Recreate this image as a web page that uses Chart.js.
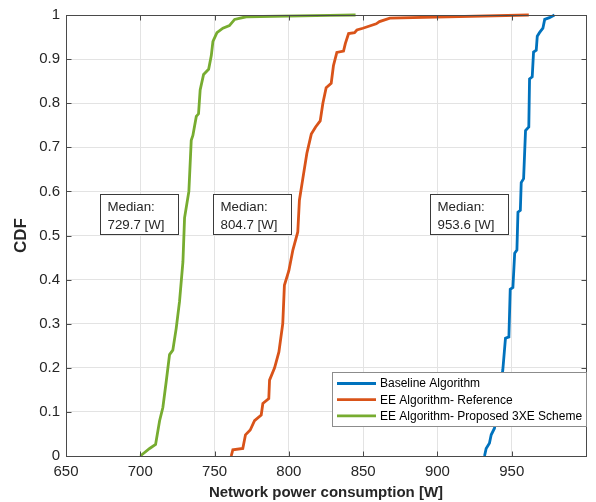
<!DOCTYPE html>
<html>
<head>
<meta charset="utf-8">
<script src="https://cdn.jsdelivr.net/npm/chart.js@4"></script>
<style>
  html, body { margin: 0; padding: 0; background: #fff; }
  #wrap { width: 596px; height: 502px; }
</style>
</head>
<body>
<div id="wrap"><canvas id="cdfChart" width="596" height="502"></canvas></div>
<script>
// series labels
const seriesNames = ['Baseline Algorithm', 'EE Algorithm- Reference', 'EE Algorithm- Proposed 3XE Scheme'];

// Baseline
const baseX = [931.7, 932.8, 935, 936.2, 938.4, 941, 944, 945.8, 948.1, 949, 950.8, 952, 953.5, 954.2, 955.8, 956.4, 958, 959.3, 961.5, 962, 963.8, 964.7, 966.5, 967.2, 968.7, 971, 972.2, 975.4, 978.8];
const baseY = [0, 0.017, 0.029, 0.048, 0.063, 0.13, 0.195, 0.267, 0.27, 0.378, 0.382, 0.46, 0.467, 0.553, 0.557, 0.62, 0.629, 0.738, 0.746, 0.855, 0.86, 0.916, 0.92, 0.952, 0.96, 0.97, 0.99, 0.994, 1.0];

// EE reference
const refX = [761.2, 762.3, 769, 770.8, 774, 776.9, 781.4, 782.5, 786.5, 787, 790.4, 793.3, 795.9, 797, 800, 802.7, 806, 807.1, 809.4, 812.1, 815.1, 818, 821.1, 822.9, 825.1, 828.5, 830, 832.3, 836.8, 838, 840.2, 844.2, 845.8, 849.8, 858.8, 861, 868, 961.5];
const refY = [0, 0.014, 0.017, 0.048, 0.059, 0.08, 0.093, 0.119, 0.13, 0.172, 0.2, 0.236, 0.3, 0.387, 0.42, 0.467, 0.508, 0.58, 0.629, 0.686, 0.73, 0.746, 0.76, 0.8, 0.835, 0.845, 0.885, 0.915, 0.918, 0.935, 0.958, 0.96, 0.966, 0.97, 0.98, 0.985, 0.993, 1.0];

// EE proposed 3XE
const propX = [700, 706.3, 710.3, 713, 715.2, 717.5, 719.7, 721.9, 724.2, 726.4, 728.7, 729.8, 732.7, 734.3, 735.4, 737.7, 739.2, 740.3, 742.6, 746, 747.8, 748.9, 751.6, 755.6, 760, 763.5, 771.3, 827.4, 844.9];
const propY = [0, 0.017, 0.026, 0.08, 0.11, 0.17, 0.23, 0.24, 0.29, 0.35, 0.44, 0.54, 0.60, 0.716, 0.727, 0.77, 0.776, 0.83, 0.865, 0.877, 0.908, 0.94, 0.96, 0.97, 0.976, 0.99, 0.996, 0.999, 1.0];

// ticks
const xTicks = [650, 700, 750, 800, 850, 900, 950];
const yTicks = [0, 0.1, 0.2, 0.3, 0.4, 0.5, 0.6, 0.7, 0.8, 0.9, 1];

// median annotations
const medianValues = ['729.7 [W]', '804.7 [W]', '953.6 [W]'];

const colors = ['#0072BD', '#D95319', '#77AC30'];
const axisColor = '#4a4a4a';
const textColor = '#262626';

function toPoints(xs, ys) {
    return xs.map((x, i) => ({ x: x, y: ys[i] }));
}

// boxes with "Median:" text, anchored at data coords (left, top)
const medianBoxes = {
    id: 'medianBoxes',
    afterDatasetsDraw(chart, args, opts) {
        const ctx = chart.ctx;
        const xs = chart.scales.x, ys = chart.scales.y;
        ctx.save();
        ctx.font = '13.3px "Liberation Sans", Arial, sans-serif';
        ctx.textBaseline = 'middle';
        ctx.textAlign = 'left';
        opts.anchors.forEach((ax, i) => {
            const left = Math.round(xs.getPixelForValue(ax)) + 0.5;
            const top = Math.round(ys.getPixelForValue(opts.top)) + 0.5;
            ctx.fillStyle = '#fff';
            ctx.fillRect(left, top, 78, 40);
            ctx.strokeStyle = '#3a3a3a';
            ctx.lineWidth = 1;
            ctx.strokeRect(left, top, 78, 40);
            ctx.fillStyle = textColor;
            ctx.fillText('Median:', left + 7, top + 13);
            ctx.fillText(medianValues[i], left + 7, top + 30.5);
        });
        ctx.restore();
    }
};

// box around the axes, inward ticks, and in-axes legend
const axesBox = {
    id: 'axesBox',
    afterDraw(chart) {
        const ctx = chart.ctx;
        const a = chart.chartArea;
        const xs = chart.scales.x, ys = chart.scales.y;
        ctx.save();
        ctx.strokeStyle = axisColor;
        ctx.lineWidth = 1;
        const L = Math.round(a.left) + 0.5, R = Math.round(a.right) + 0.5;
        const T = Math.round(a.top) + 0.5, B = Math.round(a.bottom) + 0.5;
        ctx.strokeRect(L, T, R - L, B - T);
        ctx.beginPath();
        xTicks.forEach(v => {
            const px = Math.round(xs.getPixelForValue(v)) + 0.5;
            ctx.moveTo(px, B); ctx.lineTo(px, B - 5);
            ctx.moveTo(px, T); ctx.lineTo(px, T + 5);
        });
        yTicks.forEach(v => {
            const py = Math.round(ys.getPixelForValue(v)) + 0.5;
            ctx.moveTo(L, py); ctx.lineTo(L + 5, py);
            ctx.moveTo(R, py); ctx.lineTo(R - 5, py);
        });
        ctx.stroke();

        // legend
        const lw = 254, lh = 54;
        const lx = R - lw, ly = 372.5;
        ctx.fillStyle = '#fff';
        ctx.fillRect(lx, ly, lw, lh);
        ctx.strokeStyle = '#8c8c8c';
        ctx.strokeRect(lx, ly, lw, lh);
        ctx.font = '12px "Liberation Sans", Arial, sans-serif';
        ctx.textBaseline = 'middle';
        ctx.textAlign = 'left';
        chart.data.datasets.forEach((ds, i) => {
            const yy = ly + 11 + i * 16.2;
            ctx.strokeStyle = ds.borderColor;
            ctx.lineWidth = 2.8;
            ctx.beginPath();
            ctx.moveTo(lx + 4.5, yy);
            ctx.lineTo(lx + 43.5, yy);
            ctx.stroke();
            ctx.fillStyle = '#000';
            ctx.fillText(ds.label, lx + 47.5, yy + 0.5);
        });
        ctx.restore();
    }
};

const ctx = document.getElementById('cdfChart').getContext('2d');
new Chart(ctx, {
    type: 'scatter',
    data: {
        datasets: [
            { label: seriesNames[0], data: toPoints(baseX, baseY), borderColor: colors[0] },
            { label: seriesNames[1], data: toPoints(refX, refY), borderColor: colors[1] },
            { label: seriesNames[2], data: toPoints(propX, propY), borderColor: colors[2] }
        ].map(ds => Object.assign(ds, {
            showLine: true,
            borderWidth: 2.8,
            pointRadius: 0,
            pointHoverRadius: 0,
            tension: 0,
            clip: false,
            backgroundColor: ds.borderColor
        }))
    },
    plugins: [medianBoxes, axesBox],
    options: {
        responsive: false,
        animation: false,
        events: [],
        layout: { padding: { left: 0, top: 14, right: 10, bottom: 0 } },
        plugins: {
            legend: { display: false },
            tooltip: { enabled: false },
            medianBoxes: { anchors: [673.1, 748.9, 895.2], top: 0.594 }
        },
        scales: {
            x: {
                type: 'linear',
                min: 650,
                max: 1000,
                afterBuildTicks: s => { s.ticks = xTicks.map(v => ({ value: v })); },
                afterFit: s => { s.height = 46; },
                grid: { color: '#e3e3e3', drawTicks: false },
                border: { display: false },
                ticks: {
                    padding: 7,
                    color: textColor,
                    font: { family: '"Liberation Sans", Arial, sans-serif', size: 15 }
                },
                title: {
                    display: true,
                    text: 'Network power consumption [W]',
                    color: textColor,
                    padding: { top: 0, bottom: 0 },
                    font: { family: '"Liberation Sans", Arial, sans-serif', size: 15, weight: 'bold' }
                }
            },
            y: {
                type: 'linear',
                min: 0,
                max: 1,
                afterBuildTicks: s => { s.ticks = yTicks.map(v => ({ value: v })); },
                afterFit: s => { s.width = 66; },
                grid: { color: '#e3e3e3', drawTicks: false },
                border: { display: false },
                ticks: {
                    padding: 6,
                    color: textColor,
                    callback: v => String(Math.round(v * 10) / 10),
                    font: { family: '"Liberation Sans", Arial, sans-serif', size: 15 }
                },
                title: {
                    display: true,
                    text: 'CDF',
                    color: textColor,
                    padding: { top: 11, bottom: 0 },
                    font: { family: '"Liberation Sans", Arial, sans-serif', size: 17, weight: 'bold' }
                }
            }
        }
    }
});
</script>
</body>
</html>
